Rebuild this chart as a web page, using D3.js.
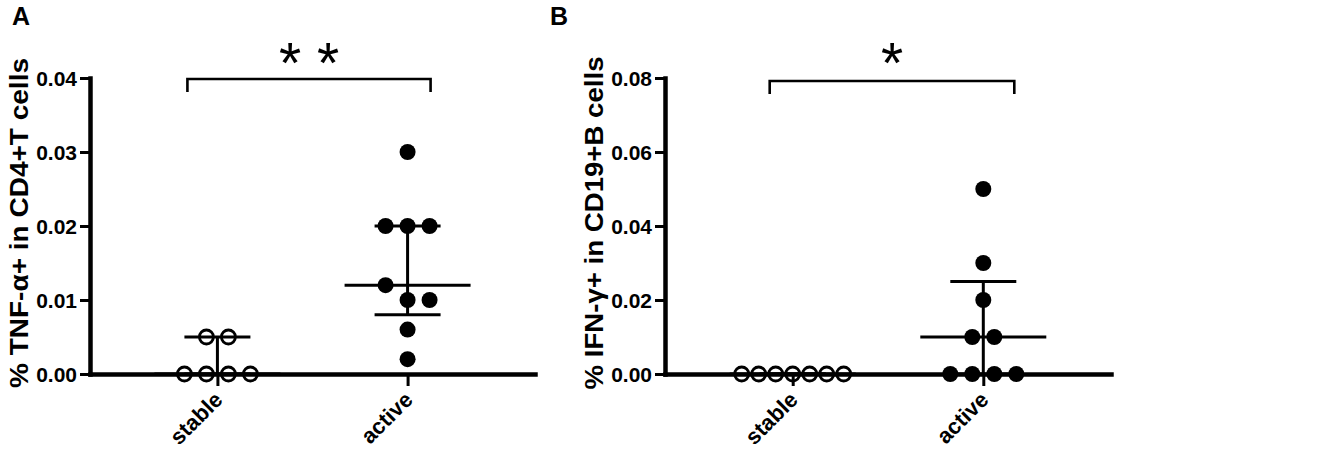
<!DOCTYPE html>
<html><head><meta charset="utf-8">
<script src="https://cdn.jsdelivr.net/npm/d3@7"></script>
<style>
body{margin:0;background:#fff;}
text{font-family:"Liberation Sans",Arial,Helvetica,sans-serif;fill:#000;}
</style>
</head><body>
<svg id="chart" width="1333" height="453"></svg>
<script>
// ---- data ----
const groups = ["stable", "active"];
const tnfStable = [0.005, 0.005, 0, 0, 0, 0];
const tnfActive = [0.03, 0.02, 0.02, 0.02, 0.012, 0.01, 0.01, 0.006, 0.002];
const ifnStable = [0, 0, 0, 0, 0, 0, 0];
const ifnActive = [0.05, 0.03, 0.02, 0.01, 0.01, 0, 0, 0, 0];
const tnfTicks = [0, 0.01, 0.02, 0.03, 0.04];
const ifnTicks = [0, 0.02, 0.04, 0.06, 0.08];
const panelLetters = ["A", "B"];
const yTitles = ["% TNF-α+ in CD4+T cells", "% IFN-γ+ in CD19+B cells"];
const sigLabels = ["* *", "*"];

// ---- layout ----
const svg = d3.select("#chart");
const yTopPx = 78, yBotPx = 374;
const panels = [
  {letter: panelLetters[0], letterX: 12, x0: 90, x1: 535, data: [tnfStable, tnfActive], ticks: tnfTicks,
   title: yTitles[0], titleX: 28, titleLen: 330, sig: sigLabels[0], brL: -30, brR: 23, brTop: 79},
  {letter: panelLetters[1], letterX: 550, x0: 665, x1: 1111, data: [ifnStable, ifnActive], ticks: ifnTicks,
   title: yTitles[1], titleX: 603, titleLen: 333, sig: sigLabels[1], brL: -23, brR: 31, brTop: 81}
];

// GraphPad-style quantile ((n+1)p method)
function q6(vals, p) {
  const s = vals.slice().sort((a, b) => a - b);
  const n = s.length;
  let pos = (n + 1) * p;
  if (pos <= 1) return s[0];
  if (pos >= n) return s[n - 1];
  const lo = Math.floor(pos), f = pos - lo;
  return s[lo - 1] + f * (s[lo] - s[lo - 1]);
}

// binned scatter spread (points with nearly equal values are placed side by side)
function spread(vals, cx, y) {
  const pts = vals.map(v => ({v, py: y(v)})).sort((a, b) => a.py - b.py);
  const bins = [];
  pts.forEach(p => {
    const b = bins[bins.length - 1];
    if (b && p.py - b[0].py < 16) b.push(p); else bins.push([p]);
  });
  bins.forEach(b => {
    const n = b.length;
    const sp = n > 1 ? Math.min(22, 102 / (n - 1)) : 0;
    b.forEach((p, i) => { p.px = cx + (i - (n - 1) / 2) * sp; });
  });
  return pts;
}

panels.forEach(P => {
  const g = svg.append("g");
  const maxV = P.ticks[P.ticks.length - 1];
  const y = d3.scaleLinear().domain([0, maxV]).range([yBotPx, yTopPx]);
  const x = d3.scalePoint().domain(groups).range([P.x0, P.x1]).padding(0.67);

  // y axis
  const ya = g.append("g").attr("transform", `translate(${P.x0},0)`)
    .call(d3.axisLeft(y).tickValues(P.ticks).tickFormat(d3.format(".2f")).tickSize(10).tickSizeOuter(0).tickPadding(3));
  ya.select(".domain").attr("stroke", "#000").attr("stroke-width", 4.5).attr("stroke-linecap", "square");
  ya.selectAll(".tick line").attr("stroke", "#000").attr("stroke-width", 3);
  ya.selectAll(".tick text").attr("font-size", 21).attr("font-weight", "bold")
    .attr("font-family", "'Liberation Sans',Arial,sans-serif").attr("dy", "0.36em");

  // x axis
  const xa = g.append("g").attr("transform", `translate(0,${yBotPx})`)
    .call(d3.axisBottom(x).tickSize(12).tickSizeOuter(0));
  xa.select(".domain").attr("stroke", "#000").attr("stroke-width", 4.5).attr("stroke-linecap", "square");
  xa.selectAll(".tick line").attr("stroke", "#000").attr("stroke-width", 3);
  xa.selectAll(".tick text").attr("font-size", 22).attr("font-weight", "bold")
    .attr("font-family", "'Liberation Sans',Arial,sans-serif")
    .attr("text-anchor", "end").attr("x", 0).attr("y", 0).attr("dy", null)
    .attr("transform", "translate(6,27) rotate(-45)");

  // y title
  g.append("text")
    .attr("transform", `translate(${P.titleX},${(yTopPx + yBotPx) / 2 - 3}) rotate(-90)`)
    .attr("text-anchor", "middle").attr("font-size", 26).attr("font-weight", "bold")
    .attr("textLength", P.titleLen).attr("lengthAdjust", "spacingAndGlyphs")
    .text(P.title);

  // panel letter
  g.append("text").attr("x", P.letterX).attr("y", 25)
    .attr("font-size", 25).attr("font-weight", "bold").text(P.letter);

  // median + IQR lines and points
  groups.forEach((grp, gi) => {
    const vals = P.data[gi];
    const cx = x(grp);
    const med = q6(vals, 0.5), q1 = q6(vals, 0.25), q3 = q6(vals, 0.75);
    const lg = g.append("g").attr("stroke", "#000").attr("stroke-width", 3);
    lg.append("line").attr("x1", cx).attr("x2", cx).attr("y1", y(q1)).attr("y2", y(q3));
    lg.append("line").attr("x1", cx - 63).attr("x2", cx + 63).attr("y1", y(med)).attr("y2", y(med));
    lg.append("line").attr("x1", cx - 33).attr("x2", cx + 33).attr("y1", y(q1)).attr("y2", y(q1));
    lg.append("line").attr("x1", cx - 33).attr("x2", cx + 33).attr("y1", y(q3)).attr("y2", y(q3));

    const pts = spread(vals, cx, y);
    const open = gi === 0;
    g.append("g").selectAll("circle").data(pts).join("circle")
      .attr("cx", d => d.px).attr("cy", d => d.py)
      .attr("r", open ? 7 : 8)
      .attr("fill", open ? "none" : "#000")
      .attr("stroke", open ? "#000" : "none")
      .attr("stroke-width", 2.8);
  });

  // significance bracket
  const bl = x(groups[0]) + P.brL, br = x(groups[1]) + P.brR;
  g.append("path")
    .attr("d", d3.line()([[bl, P.brTop + 13], [bl, P.brTop], [br, P.brTop], [br, P.brTop + 13]]))
    .attr("fill", "none").attr("stroke", "#000").attr("stroke-width", 2.6);
  g.append("text").attr("x", (bl + br) / 2).attr("y", 49 + 0.59 * 57)
    .attr("text-anchor", "middle").attr("font-size", 57).attr("font-weight", "normal")
    .text(P.sig);
});
</script>
</body></html>
